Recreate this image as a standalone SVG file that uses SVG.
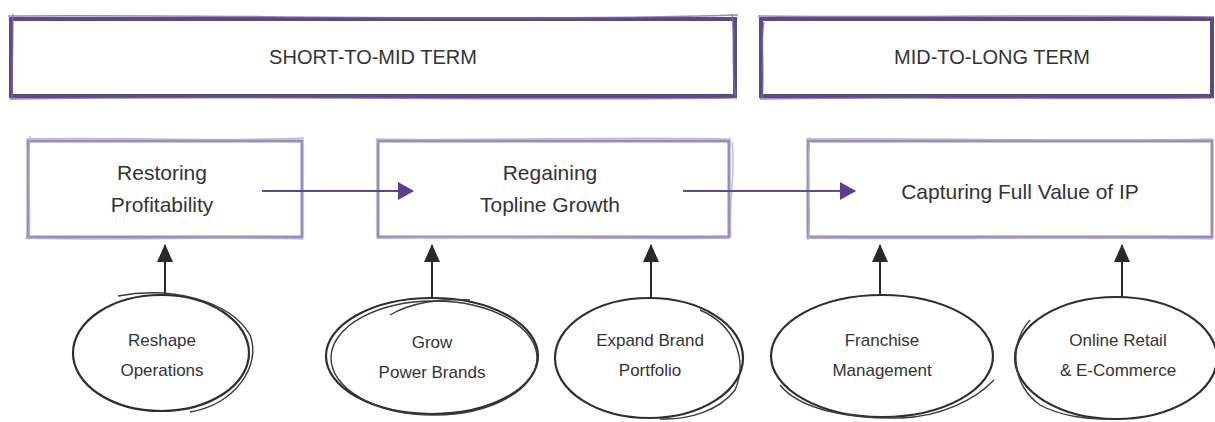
<svg xmlns="http://www.w3.org/2000/svg" width="1215" height="422" viewBox="0 0 1215 422">
  <style>
    .bg { fill: #ffffff; }
    .term { fill: #ffffff; stroke: #5b4a85; stroke-width: 4; }
    .term2 { fill: none; stroke: #7b6aa3; stroke-width: 1.5; opacity: 0.8; }
    .box { fill: #ffffff; stroke: #9a8bbd; stroke-width: 3; }
    .box2 { fill: none; stroke: #b3a7cf; stroke-width: 1.5; opacity: 0.8; }
    .oval { fill: #ffffff; stroke: #2e2e2e; stroke-width: 2.2; }
    .oval2 { fill: none; stroke: #3a3a3a; stroke-width: 1.4; }
    .t { font-family: "Liberation Sans", Arial, sans-serif; fill: #333333; text-anchor: middle; }
    .tt { font-size: 20px; }
    .tb { font-size: 21px; }
    .to { font-size: 17px; }
    .hline { stroke: #5e4a8a; stroke-width: 2.2; fill: none; }
    .vline { stroke: #2a2a2a; stroke-width: 2; fill: none; }
  </style>
  <defs>
    <marker id="purpleHead" viewBox="0 0 16 18" refX="15" refY="9" markerWidth="16" markerHeight="18" markerUnits="userSpaceOnUse" orient="auto">
      <path d="M0,0 L16,9 L0,18 Z" fill="#5b3d8f"/>
    </marker>
    <marker id="blackHead" viewBox="0 0 18 16" refX="17" refY="8" markerWidth="18" markerHeight="16" markerUnits="userSpaceOnUse" orient="auto">
      <path d="M0,0 L18,8 L0,16 Z" fill="#2a2a2a"/>
    </marker>
  </defs>
  <rect class="bg" x="0" y="0" width="1215" height="422"/>

  <g id="term-short">
    <rect class="term" x="11" y="19" width="724" height="77"/>
    <path class="term2" d="M8,16 C200,14 500,22 738,15 M10,99 C250,95 500,101 733,98 M13,14 L12,100 M732,14 C735,40 731,70 736,99"/>
    <text class="t tt" x="373" y="64">SHORT-TO-MID TERM</text>
  </g>

  <g id="term-long">
    <rect class="term" x="761" y="19" width="451" height="77"/>
    <path class="term2" d="M758,16 C900,18 1050,14 1214,17 M760,99 C900,96 1050,100 1212,98 M764,22 C760,40 765,70 762,99"/>
    <text class="t tt" x="992" y="64">MID-TO-LONG TERM</text>
  </g>

  <g id="restoring">
    <rect class="box" x="28" y="141" width="274" height="96"/>
    <path class="box2" d="M26,139 C120,137 220,142 304,138 M25,238 C120,241 220,236 303,239 M30,136 C27,170 31,210 29,240"/>
    <text class="t tb" x="162" y="180">Restoring</text>
    <text class="t tb" x="162" y="212">Profitability</text>
  </g>

  <g id="regaining">
    <rect class="box" x="378" y="141" width="351" height="96"/>
    <path class="box2" d="M376,139 C500,141 620,136 731,139 M377,238 C500,235 620,240 729,238 M732,142 C736,170 728,210 731,236"/>
    <text class="t tb" x="550" y="180">Regaining</text>
    <text class="t tb" x="550" y="212">Topline Growth</text>
  </g>

  <g id="capturing">
    <rect class="box" x="808" y="141" width="404" height="96"/>
    <path class="box2" d="M806,139 C950,138 1080,142 1213,139 M807,238 C950,240 1080,236 1213,239 M810,137 C805,170 812,210 808,240"/>
    <text class="t tb" x="1020" y="199">Capturing Full Value of IP</text>
  </g>

  <g id="connectors">
    <line class="hline" x1="262" y1="191" x2="413" y2="191" marker-end="url(#purpleHead)"/>
    <line class="hline" x1="683" y1="191" x2="855" y2="191" marker-end="url(#purpleHead)"/>
    <line class="vline" x1="165" y1="297" x2="165" y2="245" marker-end="url(#blackHead)"/>
    <line class="vline" x1="432" y1="298" x2="432" y2="245" marker-end="url(#blackHead)"/>
    <line class="vline" x1="651" y1="298" x2="651" y2="245" marker-end="url(#blackHead)"/>
    <line class="vline" x1="880" y1="296" x2="880" y2="245" marker-end="url(#blackHead)"/>
    <line class="vline" x1="1122" y1="298" x2="1122" y2="245" marker-end="url(#blackHead)"/>
  </g>

  <g id="reshape">
    <ellipse class="oval" cx="161" cy="353" rx="88" ry="58"/>
    <path class="oval2" d="M118,296 C170,286 230,300 250,335 C262,365 235,405 190,412"/>
    <text class="t to" x="162" y="346">Reshape</text>
    <text class="t to" x="162" y="376">Operations</text>
  </g>

  <g id="grow">
    <ellipse class="oval" cx="432" cy="356" rx="106" ry="58"/>
    <ellipse class="oval2" cx="434" cy="358" rx="103" ry="57"/>
    <path class="oval2" d="M390,315 C410,303 440,298 470,300"/>
    <text class="t to" x="432" y="348">Grow</text>
    <text class="t to" x="432" y="378">Power Brands</text>
  </g>

  <g id="expand">
    <ellipse class="oval" cx="649" cy="358" rx="94" ry="60"/>
    <path class="oval2" d="M700,310 C735,325 748,360 735,390 C720,410 690,420 660,419"/>
    <text class="t to" x="650" y="346">Expand Brand</text>
    <text class="t to" x="650" y="376">Portfolio</text>
  </g>

  <g id="franchise">
    <ellipse class="oval" cx="882" cy="356" rx="111" ry="61"/>
    <path class="oval2" d="M780,385 C800,410 850,419 900,418 C940,417 975,400 994,380"/>
    <text class="t to" x="882" y="346">Franchise</text>
    <text class="t to" x="882" y="376">Management</text>
  </g>

  <g id="online">
    <ellipse class="oval" cx="1116" cy="358" rx="101" ry="61"/>
    <path class="oval2" d="M1030,320 C1008,345 1012,385 1040,405 C1060,416 1090,420 1110,419"/>
    <text class="t to" x="1118" y="346">Online Retail</text>
    <text class="t to" x="1118" y="376">&amp; E-Commerce</text>
  </g>
</svg>
